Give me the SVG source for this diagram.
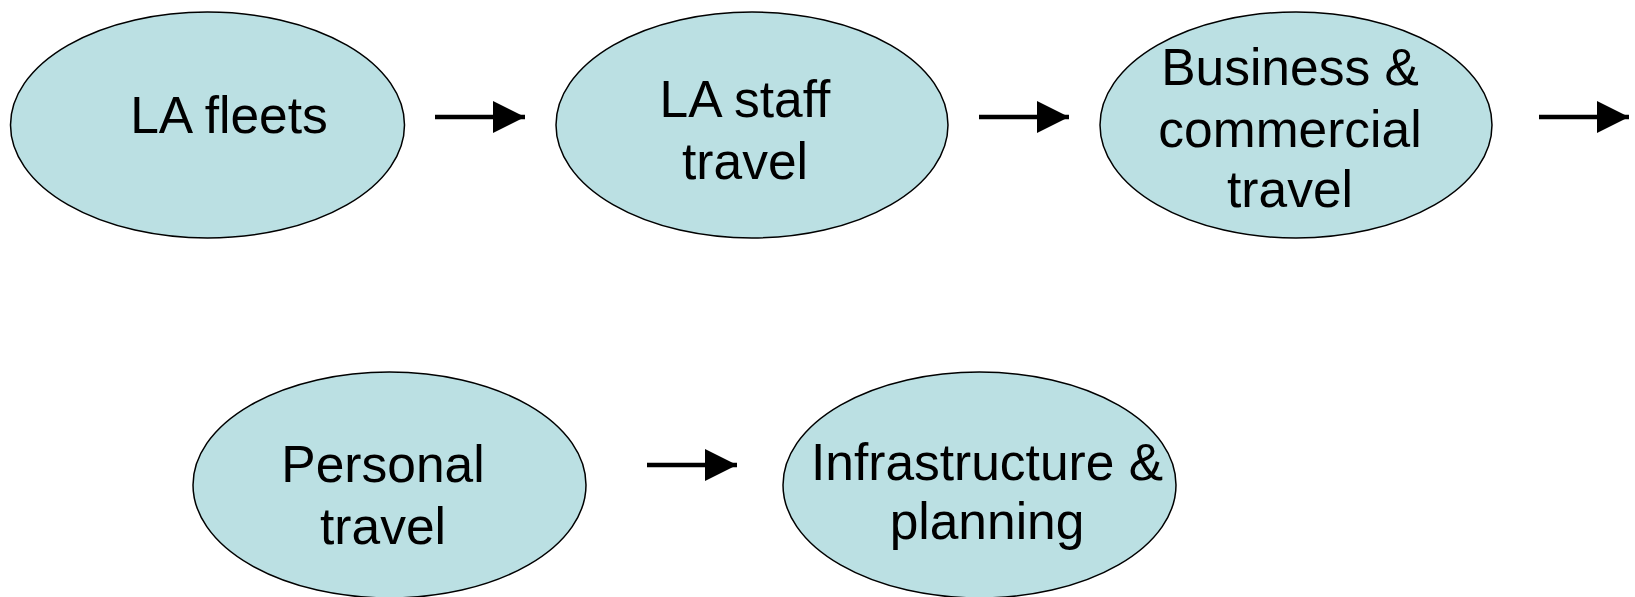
<svg xmlns="http://www.w3.org/2000/svg" width="1635" height="597" viewBox="0 0 1635 597">
<style>
.node ellipse{fill:#BBE0E3;stroke:#000;stroke-width:1.5}
.node text{font-family:"Liberation Sans",Arial,sans-serif;font-size:51.5px;fill:#000;text-anchor:middle}
.conn line{stroke:#000;stroke-width:4.5}
</style>
<defs>
<marker id="ah" markerUnits="userSpaceOnUse" markerWidth="34" markerHeight="34" refX="32" refY="16" orient="auto">
<path d="M0,0 L32,16 L0,32 Z" fill="#000"/>
</marker>
</defs>
<rect width="1635" height="597" fill="#fff"/>
<g id="connectors" class="conn">
<line x1="435" y1="117" x2="525" y2="117" marker-end="url(#ah)"/>
<line x1="979" y1="117" x2="1069" y2="117" marker-end="url(#ah)"/>
<line x1="1539" y1="117" x2="1629" y2="117" marker-end="url(#ah)"/>
<line x1="647" y1="465" x2="737" y2="465" marker-end="url(#ah)"/>
</g>
<g id="n1" class="node">
<ellipse cx="207.5" cy="125" rx="197" ry="113"/>
<text x="229" y="133">LA fleets</text>
</g>
<g id="n2" class="node">
<ellipse cx="752" cy="125" rx="196" ry="113"/>
<text x="745" y="117">LA staff</text>
<text x="745" y="179">travel</text>
</g>
<g id="n3" class="node">
<ellipse cx="1296" cy="125" rx="196" ry="113"/>
<text x="1290" y="85">Business &amp;</text>
<text x="1290" y="147">commercial</text>
<text x="1290" y="207">travel</text>
</g>
<g id="n4" class="node">
<ellipse cx="389.5" cy="485" rx="196.5" ry="113"/>
<text x="383" y="482">Personal</text>
<text x="383" y="544">travel</text>
</g>
<g id="n5" class="node">
<ellipse cx="979.5" cy="485" rx="196.5" ry="113"/>
<text x="987" y="480">Infrastructure &amp;</text>
<text x="987" y="539">planning</text>
</g>
</svg>
